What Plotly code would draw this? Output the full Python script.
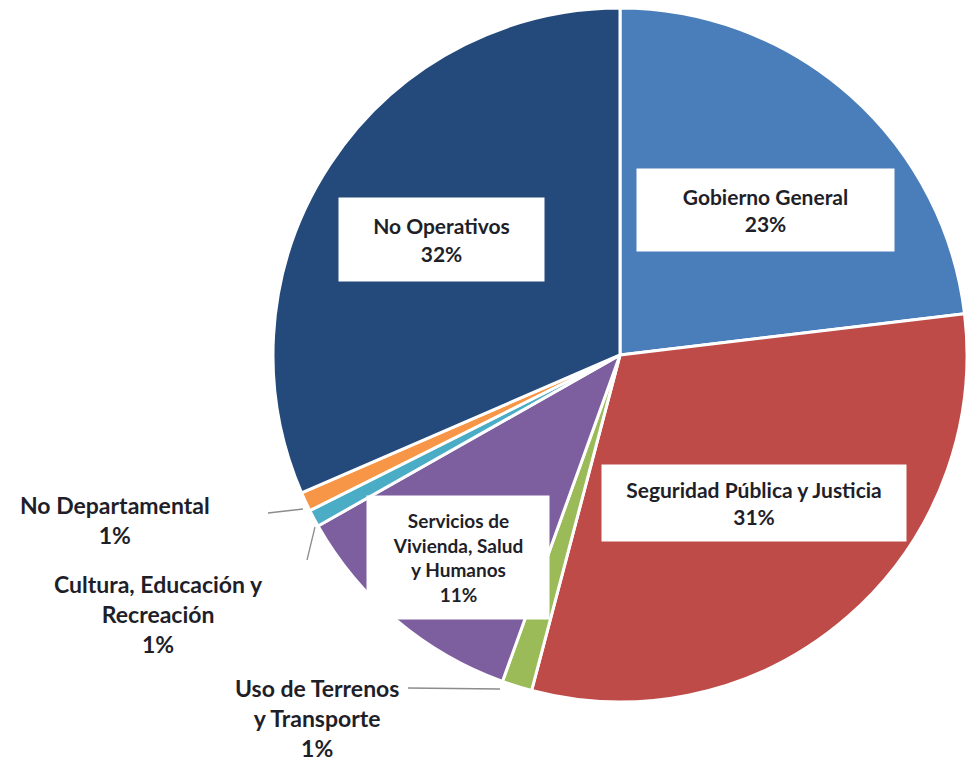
import plotly.graph_objects as go

categories = ["Gobierno General", "Seguridad Pública y Justicia", "Uso de Terrenos y Transporte",
              "Servicios de Vivienda, Salud y Humanos", "Cultura, Educación y Recreación",
              "No Departamental", "No Operativos"]
display_labels = ["Gobierno General", "Seguridad Pública y Justicia", "Uso de Terrenos<br>y Transporte",
                  "Servicios de<br>Vivienda, Salud<br>y Humanos", "Cultura, Educación y<br>Recreación",
                  "No Departamental", "No Operativos"]
values = [23.1, 31.0, 1.4, 11.3, 0.8, 0.9, 31.5]
colors = ["#4a7ebb", "#be4b48", "#9bbb59", "#7d5fa0", "#4bacc6", "#f79646", "#244a7b"]

W, H = 974, 761
total = sum(values)
pct = [round(v / total * 100) for v in values]

fig = go.Figure(go.Pie(
    labels=categories, values=values, sort=False, direction="clockwise", rotation=0,
    marker=dict(colors=colors, line=dict(color="white", width=3)),
    textinfo="none", hoverinfo="label+percent", showlegend=False,
    domain=dict(x=[273 / W, 967 / W], y=[59 / H, 1 - 8 / H]),
))

def px(x, y):
    return x / W, 1 - y / H

# label placement (pixel centres), box sizes (None = no box)
label_pos = [(765, 210, 255, 80), (754, 503, 302, 74), (317, 718, None, None),
             (458, 557, 180, 121), (158, 614, None, None), (115, 520, None, None),
             (441, 240, 203, 81)]
font_sizes = [21, 21, 23, 19, 23, 23, 21]

annotations = []
for lab, p, (cx, cy, bw, bh), fs in zip(display_labels, pct, label_pos, font_sizes):
    x, y = px(cx, cy)
    a = dict(x=x, y=y, xref="paper", yref="paper", showarrow=False,
             text=f"<b>{lab}<br>{p}%</b>", align="center",
             font=dict(family="Lato, 'Open Sans', sans-serif", size=fs, color="#1f1f2a"),
             xanchor="center", yanchor="middle")
    if bw:
        a.update(bgcolor="white", width=bw, height=bh)
    annotations.append(a)

leaders = [((268, 513), (303, 509)), ((307, 560), (315, 527)), ((408, 688), (500, 689))]
shapes = []
for (x0, y0), (x1, y1) in leaders:
    a0, b0 = px(x0, y0)
    a1, b1 = px(x1, y1)
    shapes.append(dict(type="line", xref="paper", yref="paper", x0=a0, y0=b0, x1=a1, y1=b1,
                       line=dict(color="#8c8c8c", width=1.3)))

fig.update_layout(width=W, height=H, margin=dict(l=0, r=0, t=0, b=0),
                  paper_bgcolor="white", plot_bgcolor="white",
                  annotations=annotations, shapes=shapes)
fig.write_html("out.html", config={"displayModeBar": False},
               post_script="document.body.style.margin='0';document.body.style.padding='0';")
